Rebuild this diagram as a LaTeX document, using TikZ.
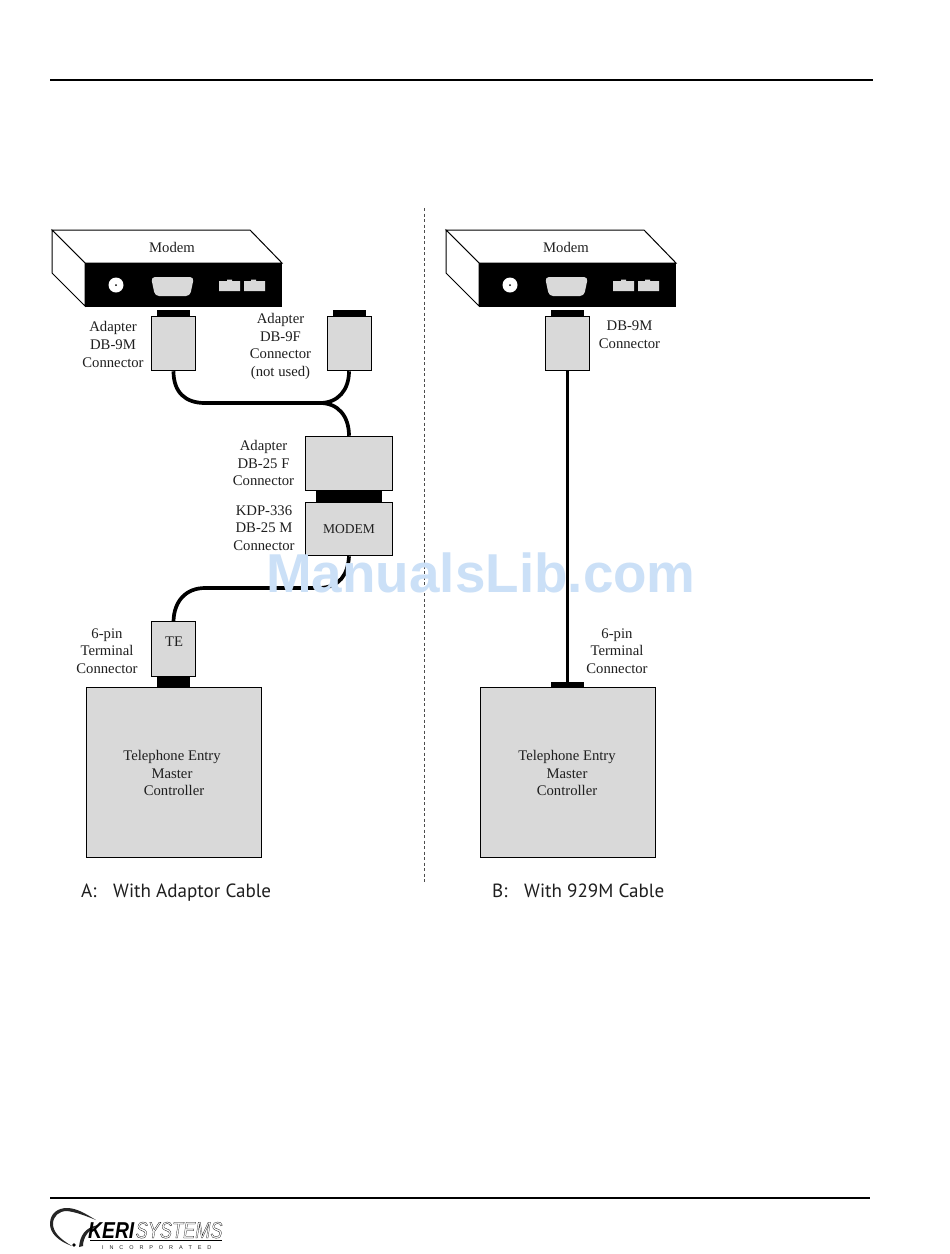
\documentclass[tikz,border=0pt]{standalone}
\usepackage{fontspec}
\setmainfont{Liberation Serif}
\setsansfont{PT Sans}
\newfontfamily\wmfont{Liberation Sans}[Scale=1]
\definecolor{boxgray}{gray}{0.85}
\definecolor{wmblue}{RGB}{203,224,247}
\definecolor{ink}{gray}{0.12}
\newcommand{\outlinetext}[1]{\special{pdf:code 1 Tr 0.3 w}#1\special{pdf:code 0 Tr}}
\tikzset{
  x=1pt,y=-1pt,
  label text/.style={align=center,font=\fontsize{14.7}{17.7}\selectfont,text=ink,inner sep=0pt},
  gbox/.style={draw=black,line width=1pt,fill=boxgray,inner sep=0pt},
  plug/.style={fill=black},
  cable/.style={draw=black,line width=3.7pt},
  rulebar/.style={draw=black,line width=1.6pt},
  caption text/.style={anchor=base west,font=\sffamily\fontsize{19.1}{22}\selectfont,text=ink,inner sep=0pt},
}
\newcommand{\modemunit}[1]{%
  \begin{scope}[xshift=#1]
    \draw[black,line width=1pt,fill=white] (52,230) -- (250,230) -- (282,263) -- (85,263) -- cycle;
    \draw[black,line width=1pt,fill=white] (52,230) -- (85,263) -- (85,306) -- (52,273) -- cycle;
    \fill[black] (85,263) rectangle (282,306.5);
    \fill[white] (116,285) circle (7.5);
    \fill[black] (116,285) circle (1);
    \fill[boxgray,rounded corners=4pt] (151,277) -- (194,277) -- (190,296) -- (155,296) -- cycle;
    \fill[boxgray] (219,281) -- (227,281) -- (227,279.5) -- (232,279.5) -- (232,281) -- (240,281) -- (240,291) -- (219,291) -- cycle;
    \fill[boxgray] (244,281) -- (251,281) -- (251,279.5) -- (256,279.5) -- (256,281) -- (265,281) -- (265,291) -- (244,291) -- cycle;
  \end{scope}}
\begin{document}
\begin{tikzpicture}
\useasboundingbox (0,0) rectangle (950,1254);
\fill[white] (0,0) rectangle (950,1254);
% page rules
\coordinate (tl) at (50,80); \coordinate (tr) at (873,80);
\coordinate (bl) at (50,1198); \coordinate (br) at (870,1198);
\draw[rulebar] (tl) -- (tr);
\draw[rulebar] (bl) -- (br);
\coordinate (dt) at (424,208); \coordinate (db) at (424,882);
\draw[black!70,line width=.6pt,dash pattern=on 3pt off 2.5pt] (dt) -- (db);
% modems
\modemunit{0}
\modemunit{394}
\node[label text] (mlabA) at (172,247) {Modem};
\node[label text] (mlabB) at (566,247) {Modem};
% left side plugs and boxes
\fill[plug] (157,310) rectangle (190,316);
\fill[plug] (333,310) rectangle (366,316);
\fill[plug] (316,491) rectangle (382,502);
\fill[plug] (157,676) rectangle (190,687);
\coordinate (jn) at (320,403);
\coordinate (jm) at (205,588);
\node[gbox,minimum width=44pt,minimum height=54.5pt] (dbm) at (173.5,343.5) {};
\node[gbox,minimum width=44pt,minimum height=54.5pt] (dbf) at (349,343.5) {};
\node[gbox,minimum width=87pt,minimum height=54.5pt] (dbff) at (349,463.5) {};
\node[gbox,minimum width=87pt,minimum height=53.5pt,font=\fontsize{13.5}{16}\selectfont,text=ink] (kdp) at (349,529) {MODEM};
\node[gbox,minimum width=44pt,minimum height=54.5pt] (te) at (173.5,649) {};
\node[label text] (telab) at (174,642) {TE};
\draw[cable] (dbm.south) .. controls (173.5,392) and (185,403) .. (205,403) -- (jn);
\draw[cable] (dbf.south) .. controls (349,390) and (338,403) .. (jn);
\draw[cable] (jn) .. controls (338,403) and (349,416) .. (dbff.north);
\draw[cable] (kdp.south) .. controls (348,574) and (340,588) .. (318,588) -- (jm);
\draw[cable] (jm) .. controls (186,588) and (174,601) .. (te.north);
\node[gbox,minimum width=175pt,minimum height=170.5pt] (ctlA) at (174,772.5) {};
\node[label text] (ctlAt) at (172,773) {Telephone Entry\\Master\\\hspace*{4pt}Controller};
% right side
\fill[plug] (551,310) rectangle (584,316);
\node[gbox,minimum width=44pt,minimum height=54.5pt] (dbr) at (567.5,343.5) {};
\node[gbox,minimum width=175pt,minimum height=170.5pt] (ctlB) at (568,772.5) {};
\fill[plug] (551,682) rectangle (584,687);
\draw[cable] (dbr.south) -- (dbr.south |- ctlB.north);
\node[label text] (ctlBt) at (567,773) {Telephone Entry\\Master\\Controller};
% labels
\node[label text] (l1) at (113,344.5) {Adapter\\DB-9M\\Connector};
\node[label text] (l2) at (280.5,346.5) {Adapter\\DB-9F\\Connector\\(not used)};
\node[label text] (l3) at (263.5,463) {Adapter\\DB-25 F\\Connector};
\node[label text] (l4) at (264,528) {KDP-336\\DB-25 M\\Connector};
\node[label text] (l5) at (107,651) {6-pin\\Terminal\\Connector};
\node[label text] (l6) at (629.5,335) {DB-9M\\Connector};
\node[label text] (l7) at (617,651) {6-pin\\Terminal\\Connector};
% captions
\node[caption text] (capA) at (81,897) {A:};
\node[caption text] (capAt) at (113,897) {With Adaptor Cable};
\node[caption text] (capB) at (492,897) {B:};
\node[caption text] (capBt) at (524,897) {With 929M Cable};
% watermark
\node[anchor=base,inner sep=0pt,text=wmblue,font=\wmfont\bfseries\fontsize{54.8}{60}\selectfont] (wm) at (481,592) {ManualsLib.com};
% logo
\fill[black!85] (72,1246) .. controls (58,1241) and (50,1233) .. (50,1224) .. controls (50,1213) and (58,1208) .. (67,1208) .. controls (77,1208) and (86,1214) .. (96,1220)
  .. controls (86,1216) and (76,1212) .. (67,1211) .. controls (59,1211) and (53,1216) .. (53,1224) .. controls (53,1232) and (60,1239) .. (72,1246) -- cycle;
\fill[black!85] (79,1247) .. controls (80,1237) and (84,1227) .. (99,1225) .. controls (89,1229) and (83,1237) .. (83,1246) -- cycle;
\fill[black] (74,1245) circle (1.8);
\node[anchor=base west,inner sep=0pt,font=\wmfont\bfseries\itshape\fontsize{23}{24}\selectfont] (logoa) at (88,1238) {\scalebox{.84}[1]{KERI}};
\node[anchor=base west,inner sep=0pt,font=\wmfont\itshape\fontsize{23}{24}\selectfont] (logob) at (135.5,1238) {\scalebox{.79}[1]{\outlinetext{SYSTEMS}}};
\coordinate (ula) at (90,1240); \coordinate (ulb) at (222,1240);
\draw[black,line width=.8pt] (ula) -- (ulb);
\node[anchor=base west,inner sep=0pt,font=\wmfont\fontsize{5.5}{6}\selectfont,text=ink] (logoc) at (102,1249) {I\hspace{5.9pt}N\hspace{5.9pt}C\hspace{5.9pt}O\hspace{5.9pt}R\hspace{5.9pt}P\hspace{5.9pt}O\hspace{5.9pt}R\hspace{5.9pt}A\hspace{5.9pt}T\hspace{5.9pt}E\hspace{5.9pt}D};
\end{tikzpicture}
\end{document}
